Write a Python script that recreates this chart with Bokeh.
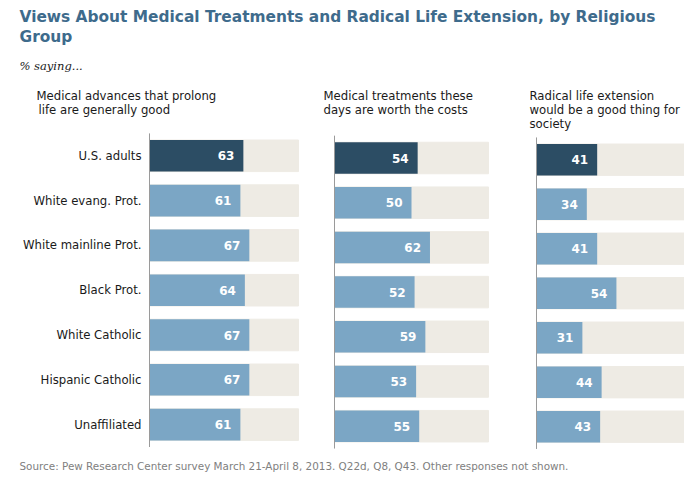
from bokeh.plotting import figure
from bokeh.models import Range1d, Label, ColumnDataSource
from bokeh.core.properties import value
from bokeh.embed import file_html
from bokeh.resources import INLINE

# ---------------- data ----------------
categories = ["U.S. adults", "White evang. Prot.", "White mainline Prot.",
              "Black Prot.", "White Catholic", "Hispanic Catholic", "Unaffiliated"]
medical_advances_good = [63, 61, 67, 64, 67, 67, 61]
treatments_worth_costs = [54, 50, 62, 52, 59, 53, 55]
radical_extension_good = [41, 34, 41, 54, 31, 44, 43]
panel_headers = [
    ["Medical advances that prolong", " life are generally good"],
    ["Medical treatments these", "days are worth the costs"],
    ["Radical life extension", "would be a good thing for", "society"],
]
highlight = "U.S. adults"
scale_max = 100
title_lines = ["Views About Medical Treatments and Radical Life Extension, by Religious", "Group"]
subtitle = "% saying..."
source_note = "Source: Pew Research Center survey March 21-April 8, 2013. Q22d, Q8, Q43. Other responses not shown."

# ---------------- layout / style ----------------
W, H = 684, 473
DARK = "#2c4d64"
LIGHT = "#7ba6c5"
TRACK = "#eeebe4"
TITLE_C = "#3e6b8c"
FONT = "DejaVu Sans"

# panel geometry in canvas pixels: left edge, px per 100, first row center, row pitch
panels = [
    dict(x0=149, w=149, c0=155.3, pitch=44.8),
    dict(x0=334, w=154, c0=157.5, pitch=44.7),
    dict(x0=536, w=148, c0=159.2, pitch=44.5),
]
header_x = [36, 323, 529]
header_y = [95, 109, 123]


def xr(pn):
    s = pn["w"] / scale_max
    return Range1d(-pn["x0"] / s, (W - pn["x0"]) / s)


def yr(pn):
    return Range1d((H - pn["c0"]) / pn["pitch"], -pn["c0"] / pn["pitch"])


p = figure(width=W, height=H, output_backend="svg", toolbar_location=None,
           x_axis_location=None, y_axis_location=None,
           x_range=xr(panels[0]), y_range=yr(panels[0]), min_border=0)
p.min_border_left = p.min_border_right = p.min_border_top = p.min_border_bottom = 0
p.grid.visible = False
p.outline_line_color = None
p.background_fill_color = "white"
p.border_fill_color = "white"

p.extra_x_ranges = {f"x{i}": xr(pn) for i, pn in enumerate(panels)}
p.extra_y_ranges = {f"y{i}": yr(pn) for i, pn in enumerate(panels)}

series = [medical_advances_good, treatments_worth_costs, radical_extension_good]
rows = list(range(len(categories)))
colors = [DARK if c == highlight else LIGHT for c in categories]
bar_h = 0.705

for i, vals in enumerate(series):
    src = ColumnDataSource(dict(y=rows, v=vals, lab=[str(v) for v in vals],
                                full=[scale_max] * len(vals), color=colors))
    kw = dict(x_range_name=f"x{i}", y_range_name=f"y{i}")
    p.hbar(y="y", left=0, right="full", height=bar_h, color=TRACK, source=src, **kw)
    p.hbar(y="y", left=0, right="v", height=bar_h, fill_color="color", line_color=None,
           source=src, **kw)
    p.text(x="v", y="y", text="lab", x_offset=-9, text_align="right", text_baseline="middle",
           text_color="white", text_font=value(FONT), text_font_style="bold",
           text_font_size="12px", source=src, **kw)
    p.segment(x0=0, x1=0, y0=-0.5, y1=len(categories) - 0.5, line_color="#9a9a9a",
              line_width=1, **kw)
    for j, line in enumerate(panel_headers[i]):
        p.add_layout(Label(x=header_x[i] + (2 if line.startswith(" ") else 0),
                           y=H - header_y[j], x_units="screen", y_units="screen",
                           text=line.strip(), text_font=FONT, text_font_size="11.7px",
                           text_color="#1a1a1a", text_baseline="middle"))

# category labels
csrc = ColumnDataSource(dict(y=rows, t=categories, x=[0] * len(categories)))
p.text(x="x", y="y", text="t", x_offset=-8, text_align="right", text_baseline="middle",
       text_color="#1a1a1a", text_font=value(FONT), text_font_size="11.7px",
       source=csrc, x_range_name="x0", y_range_name="y0")

# titles
for k, line in enumerate(title_lines):
    p.add_layout(Label(x=19, y=H - (16 + 20 * k), x_units="screen", y_units="screen",
                       text=line, text_font=FONT, text_font_style="bold",
                       text_font_size="15.4px", text_color=TITLE_C, text_baseline="middle"))
p.add_layout(Label(x=19, y=H - 65.5, x_units="screen", y_units="screen", text=subtitle,
                   text_font="DejaVu Serif", text_font_style="italic", text_font_size="11.5px",
                   text_color="#1a1a1a", text_baseline="middle"))
p.add_layout(Label(x=19, y=H - 465, x_units="screen", y_units="screen", text=source_note,
                   text_font=FONT, text_font_size="10.4px", text_color="#808080",
                   text_baseline="middle"))

open("out.html", "w").write(file_html(p, INLINE))
